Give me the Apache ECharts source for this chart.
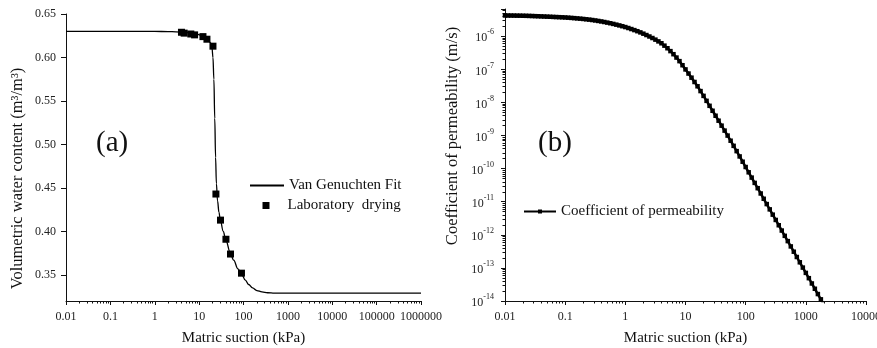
<!DOCTYPE html>
<html>
<head>
<meta charset="utf-8">
<script src="https://cdn.jsdelivr.net/npm/echarts@6/dist/echarts.min.js"></script>
<style>
html, body { margin: 0; padding: 0; background: #fff; }
#chart { width: 877px; height: 348px; }
</style>
</head>
<body>
<div id="chart"></div>
<script>
// (a) water retention: Van Genuchten fit and lab points
var fitSuction = [0.01, 0.1, 1, 2, 3, 5, 8, 12, 15, 18, 19.5, 20.5, 21.5, 22.5, 23.5, 24.5, 26, 28, 30, 35,
    40, 50, 60, 75, 90, 110, 130, 160, 200, 260, 350, 500, 800, 1000000];
var fitTheta = [0.630, 0.630, 0.630, 0.6298, 0.6295, 0.629, 0.6275, 0.625, 0.622, 0.617, 0.611, 0.600, 0.575, 0.530, 0.485, 0.455, 0.435, 0.422, 0.413, 0.400,
    0.390, 0.376, 0.367, 0.357, 0.351, 0.344, 0.339, 0.335, 0.332, 0.3305, 0.3295, 0.329, 0.329, 0.329];
var labSuction = [4.0, 4.6, 6.5, 7.9, 12.2, 15, 20.5, 23.9, 30.3, 40.2, 51, 90];
var labTheta = [0.629, 0.628, 0.627, 0.626, 0.624, 0.621, 0.613, 0.443, 0.413, 0.391, 0.374, 0.352];

// (b) permeability function, kept as log10 of suction (kPa) and of k (m/s)
var permSuctionExp = [
    -2.00, -1.95, -1.90, -1.85, -1.80, -1.75, -1.70, -1.65, -1.60, -1.55,
    -1.50, -1.45, -1.40, -1.35, -1.30, -1.25, -1.20, -1.15, -1.10, -1.05,
    -1.00, -0.95, -0.90, -0.85, -0.80, -0.75, -0.70, -0.65, -0.60, -0.55,
    -0.50, -0.45, -0.40, -0.35, -0.30, -0.25, -0.20, -0.15, -0.10, -0.05,
    0.00, 0.05, 0.10, 0.15, 0.20, 0.25, 0.30, 0.35, 0.40, 0.45,
    0.50, 0.55, 0.60, 0.65, 0.70, 0.75, 0.80, 0.85, 0.90, 0.95,
    1.00, 1.05, 1.10, 1.15, 1.20, 1.25, 1.30, 1.35, 1.40, 1.45,
    1.50, 1.55, 1.60, 1.65, 1.70, 1.75, 1.80, 1.85, 1.90, 1.95,
    2.00, 2.05, 2.10, 2.15, 2.20, 2.25, 2.30, 2.35, 2.40, 2.45,
    2.50, 2.55, 2.60, 2.65, 2.70, 2.75, 2.80, 2.85, 2.90, 2.95,
    3.00, 3.05, 3.10, 3.15, 3.20, 3.25, 3.30];
var permExp = [
    -5.370, -5.371, -5.372, -5.373, -5.375, -5.376, -5.378, -5.380, -5.383, -5.386,
    -5.390, -5.393, -5.397, -5.401, -5.405, -5.409, -5.413, -5.417, -5.421, -5.425,
    -5.430, -5.436, -5.443, -5.450, -5.458, -5.466, -5.475, -5.485, -5.495, -5.507,
    -5.520, -5.535, -5.550, -5.567, -5.585, -5.604, -5.625, -5.647, -5.670, -5.694,
    -5.720, -5.749, -5.780, -5.812, -5.845, -5.881, -5.920, -5.961, -6.005, -6.051,
    -6.100, -6.153, -6.210, -6.282, -6.360, -6.447, -6.540, -6.642, -6.750, -6.873,
    -7.000, -7.125, -7.250, -7.380, -7.510, -7.655, -7.800, -7.950, -8.100, -8.250,
    -8.400, -8.550, -8.700, -8.850, -9.000, -9.155, -9.310, -9.470, -9.630, -9.790,
    -9.950, -10.11, -10.27, -10.43, -10.59, -10.75, -10.91, -11.07, -11.23, -11.39,
    -11.55, -11.71, -11.87, -12.03, -12.19, -12.35, -12.51, -12.67, -12.83, -12.99,
    -13.15, -13.31, -13.47, -13.63, -13.79, -13.95, -14.11];

var serif = 'Liberation Serif';
var ink = '#111';

function pairs(xs, ys) {
    return xs.map(function (x, i) { return [x, ys[i]]; });
}
function plainNum(v) {
    return String(Number(v.toPrecision(6)));
}
function powLabel(v) {
    return '{b|10}{e|' + Math.round(Math.log10(v)) + '}';
}

var labelStyle = { fontFamily: serif, fontSize: 12, color: '#222' };
var nameStyle = { fontFamily: serif, fontSize: 15, color: ink };
var yNameStyle = { fontFamily: serif, fontSize: 16.5, color: ink };
var legendText = { fontFamily: serif, fontSize: 15, color: ink };
var axisLine = { show: true, lineStyle: { color: ink, width: 1 } };

var chart = echarts.init(document.getElementById('chart'));
chart.setOption({
    animation: false,
    backgroundColor: '#fff',
    grid: [
        { left: 66, top: 14, width: 355, height: 287, outerBoundsMode: 'none' },
        { left: 505, top: 9, width: 361, height: 292, outerBoundsMode: 'none' }
    ],
    xAxis: [{
        type: 'log', gridIndex: 0, min: 0.01, max: 1000000, logBase: 10,
        name: 'Matric suction (kPa)', nameLocation: 'middle', nameGap: 30, nameTextStyle: nameStyle,
        axisLine: axisLine,
        axisTick: { show: true, length: 4, lineStyle: { color: ink } },
        minorTick: { show: true, splitNumber: 9, length: 2.5, lineStyle: { color: ink } },
        splitLine: { show: false },
        axisLabel: Object.assign({ margin: 10, formatter: plainNum }, labelStyle)
    }, {
        type: 'log', gridIndex: 1, min: 0.01, max: 10000, logBase: 10,
        name: 'Matric suction (kPa)', nameLocation: 'middle', nameGap: 30, nameTextStyle: nameStyle,
        axisLine: axisLine,
        axisTick: { show: true, length: 4, lineStyle: { color: ink } },
        minorTick: { show: true, splitNumber: 9, length: 2.5, lineStyle: { color: ink } },
        splitLine: { show: false },
        axisLabel: Object.assign({ margin: 10, formatter: plainNum }, labelStyle)
    }],
    yAxis: [{
        type: 'value', gridIndex: 0, min: 0.32, max: 0.65,
        name: 'Volumetric water content (m³/m³)', nameLocation: 'middle', nameGap: 40,
        nameTextStyle: Object.assign({ padding: [0, 42, 0, 0] }, yNameStyle),
        axisLine: axisLine,
        axisTick: { show: true, length: 5, lineStyle: { color: ink } },
        splitLine: { show: false },
        axisLabel: Object.assign({ margin: 10, showMinLabel: false, formatter: function (v) { return v.toFixed(2); } }, labelStyle)
    }, {
        type: 'log', gridIndex: 1, min: 1e-14, max: 6.7e-6, logBase: 10,
        name: 'Coefficient of permeability (m/s)', nameLocation: 'middle', nameGap: 44,
        nameTextStyle: Object.assign({ padding: [0, 0, 0, 38] }, yNameStyle),
        axisLine: axisLine,
        axisTick: { show: true, length: 4, lineStyle: { color: ink } },
        minorTick: { show: true, splitNumber: 9, length: 2.5, lineStyle: { color: ink } },
        splitLine: { show: false },
        axisLabel: {
            margin: 11, showMaxLabel: false, formatter: powLabel,
            rich: {
                b: { fontFamily: serif, fontSize: 12, color: '#222', lineHeight: 16, verticalAlign: 'bottom' },
                e: { fontFamily: serif, fontSize: 8, color: '#222', lineHeight: 8, verticalAlign: 'top' }
            }
        }
    }],
    legend: [{
        orient: 'vertical', left: 249, top: 178, padding: 0, itemWidth: 34, itemHeight: 7,
        textStyle: legendText,
        data: [{ name: 'Van Genuchten Fit', itemStyle: { opacity: 0 } }]
    }, {
        orient: 'vertical', left: 262.5, top: 198, padding: 0, itemWidth: 7, itemHeight: 7,
        textStyle: Object.assign({ padding: [0, 0, 0, 13] }, legendText),
        data: [{ name: 'Laboratory  drying', icon: 'rect' }]
    }, {
        orient: 'vertical', left: 523, top: 204, padding: 0, itemWidth: 32, itemHeight: 5,
        textStyle: legendText,
        data: ['Coefficient of permeability']
    }],
    graphic: [
        { type: 'text', x: 96, y: 143, style: { text: '(a)', font: '29px "Liberation Serif"', fill: ink, verticalAlign: 'middle' } },
        { type: 'text', x: 538, y: 143, style: { text: '(b)', font: '29px "Liberation Serif"', fill: ink, verticalAlign: 'middle' } }
    ],
    series: [{
        type: 'line', name: 'Van Genuchten Fit', xAxisIndex: 0, yAxisIndex: 0,
        data: pairs(fitSuction, fitTheta), symbol: 'none', smooth: 0.4, smoothMonotone: 'x',
        lineStyle: { color: '#000', width: 1.3 }, itemStyle: { color: '#000' }
    }, {
        type: 'scatter', name: 'Laboratory  drying', xAxisIndex: 0, yAxisIndex: 0,
        data: pairs(labSuction, labTheta), symbol: 'rect', symbolSize: 7,
        itemStyle: { color: '#000', opacity: 1 }
    }, {
        type: 'line', name: 'Coefficient of permeability', xAxisIndex: 1, yAxisIndex: 1,
        data: permSuctionExp.map(function (e, i) { return [Math.pow(10, e), Math.pow(10, permExp[i])]; }),
        symbol: 'rect', symbolSize: 4.5, showSymbol: true,
        lineStyle: { color: '#000', width: 2.5 }, itemStyle: { color: '#000', opacity: 1 }
    }]
});
</script>
</body>
</html>
